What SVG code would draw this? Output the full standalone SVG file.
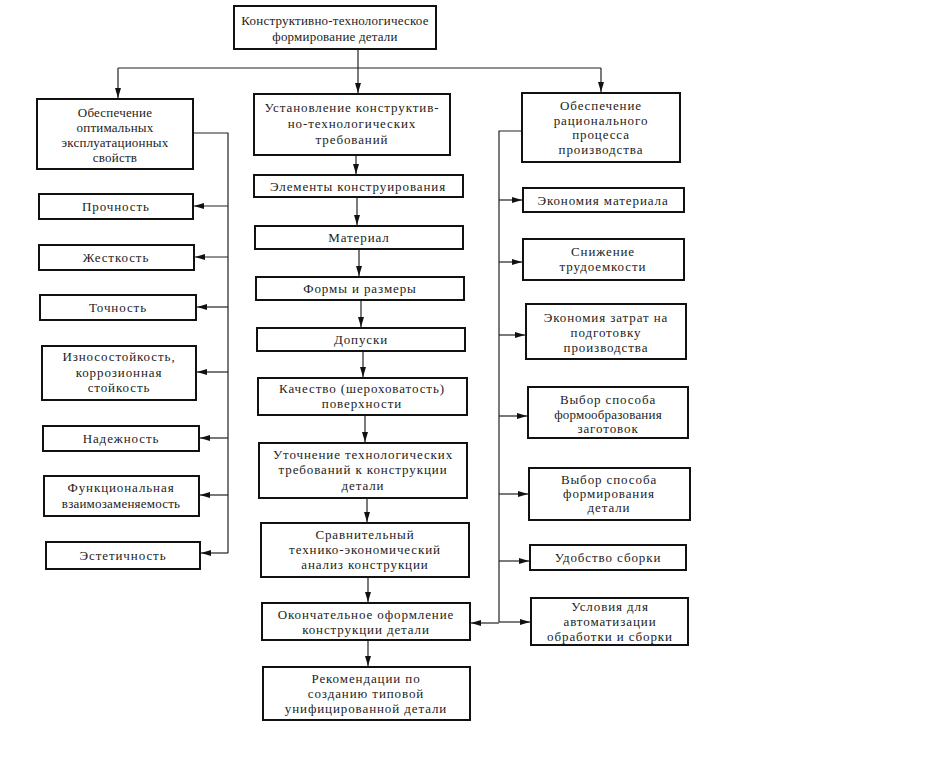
<svg xmlns="http://www.w3.org/2000/svg" width="939" height="774" viewBox="0 0 939 774">
<style>
  .box{fill:#fff;stroke:#111;stroke-width:2}
  .t{font-family:"Liberation Serif","DejaVu Serif",serif;font-size:13px;fill:#222;text-anchor:middle;letter-spacing:0.9px}
  .tn{letter-spacing:0.2px}
  .c{fill:none;stroke:#222;stroke-width:1.2}
</style>
<defs>
  <marker id="ah" viewBox="0 0 10 6" refX="10" refY="3" markerWidth="10" markerHeight="6" markerUnits="userSpaceOnUse" orient="auto">
    <path d="M0,0 L10,3 L0,6 Z" fill="#111"/>
  </marker>
</defs>
<rect width="939" height="774" fill="#fff"/>

<g id="connectors">
  <path class="c" d="M358,49 V93" marker-end="url(#ah)"/>
  <path class="c" d="M118,68 H601"/>
  <path class="c" d="M118,68 V98" marker-end="url(#ah)"/>
  <path class="c" d="M601,68 V92" marker-end="url(#ah)"/>
  <!-- left bus -->
  <path class="c" d="M193,133 H228 V553"/>
  <path class="c" d="M228,206 H194" marker-end="url(#ah)"/>
  <path class="c" d="M228,257 H195" marker-end="url(#ah)"/>
  <path class="c" d="M228,307 H197" marker-end="url(#ah)"/>
  <path class="c" d="M228,372 H197" marker-end="url(#ah)"/>
  <path class="c" d="M228,438 H200" marker-end="url(#ah)"/>
  <path class="c" d="M228,495 H200" marker-end="url(#ah)"/>
  <path class="c" d="M228,553 H201" marker-end="url(#ah)"/>
  <!-- middle chain -->
  <path class="c" d="M356,155 V174" marker-end="url(#ah)"/>
  <path class="c" d="M357,197 V225" marker-end="url(#ah)"/>
  <path class="c" d="M359,249 V276" marker-end="url(#ah)"/>
  <path class="c" d="M361,300 V327" marker-end="url(#ah)"/>
  <path class="c" d="M363,351 V377" marker-end="url(#ah)"/>
  <path class="c" d="M365,415 V442" marker-end="url(#ah)"/>
  <path class="c" d="M367,498 V522" marker-end="url(#ah)"/>
  <path class="c" d="M368,577 V602" marker-end="url(#ah)"/>
  <path class="c" d="M368,640 V666" marker-end="url(#ah)"/>
  <!-- right bus -->
  <path class="c" d="M522,131 H499 V622"/>
  <path class="c" d="M499,200 H522" marker-end="url(#ah)"/>
  <path class="c" d="M499,262 H522" marker-end="url(#ah)"/>
  <path class="c" d="M499,335 H525" marker-end="url(#ah)"/>
  <path class="c" d="M499,416 H527" marker-end="url(#ah)"/>
  <path class="c" d="M499,494 H528" marker-end="url(#ah)"/>
  <path class="c" d="M499,561 H529" marker-end="url(#ah)"/>
  <path class="c" d="M499,622 H530" marker-end="url(#ah)"/>
  <path class="c" d="M499,623 H471" marker-end="url(#ah)"/>
</g>

<g id="n-top"><rect class="box" x="234" y="6" width="202" height="43"/>
  <text class="t tn" x="335" y="25">Конструктивно-технологическое</text>
  <text class="t tn" x="335" y="41">формирование детали</text></g>

<g id="n-left"><rect class="box" x="37" y="99" width="156" height="70"/>
  <text class="t tn" x="115" y="117">Обеспечение</text>
  <text class="t tn" x="115" y="132">оптимальных</text>
  <text class="t tn" x="115" y="147">эксплуатационных</text>
  <text class="t tn" x="115" y="162">свойств</text></g>

<g id="n-l1"><rect class="box" x="39" y="194" width="154" height="25"/><text class="t" x="116" y="211">Прочность</text></g>
<g id="n-l2"><rect class="box" x="39" y="245" width="155" height="25"/><text class="t" x="116" y="262">Жесткость</text></g>
<g id="n-l3"><rect class="box" x="40" y="295" width="156" height="25"/><text class="t" x="118" y="312">Точность</text></g>
<g id="n-l4"><rect class="box" x="42" y="346" width="154" height="54"/>
  <text class="t" x="119" y="361">Износостойкость,</text>
  <text class="t" x="119" y="377">коррозионная</text>
  <text class="t" x="119" y="392">стойкость</text></g>
<g id="n-l5"><rect class="box" x="43" y="426" width="156" height="25"/><text class="t" x="121" y="443">Надежность</text></g>
<g id="n-l6"><rect class="box" x="44" y="476" width="155" height="40"/>
  <text class="t" x="121" y="492">Функциональная</text>
  <text class="t tn" x="121" y="508">взаимозаменяемость</text></g>
<g id="n-l7"><rect class="box" x="46" y="542" width="154" height="27"/><text class="t" x="123" y="560">Эстетичность</text></g>

<g id="n-m0"><rect class="box" x="254" y="94" width="196" height="61"/>
  <text class="t" x="352" y="112">Установление конструктив-</text>
  <text class="t" x="352" y="128">но-технологических</text>
  <text class="t" x="352" y="144">требований</text></g>
<g id="n-m1"><rect class="box" x="254" y="175" width="209" height="22"/><text class="t" x="358" y="191">Элементы конструирования</text></g>
<g id="n-m2"><rect class="box" x="255" y="226" width="208" height="23"/><text class="t" x="359" y="242">Материал</text></g>
<g id="n-m3"><rect class="box" x="256" y="277" width="208" height="23"/><text class="t" x="360" y="293">Формы и размеры</text></g>
<g id="n-m4"><rect class="box" x="257" y="328" width="208" height="23"/><text class="t" x="361" y="344">Допуски</text></g>
<g id="n-m5"><rect class="box" x="258" y="378" width="209" height="37"/>
  <text class="t" x="362" y="393">Качество (шероховатость)</text>
  <text class="t" x="362" y="408">поверхности</text></g>
<g id="n-m6"><rect class="box" x="259" y="443" width="208" height="55"/>
  <text class="t" x="363" y="459">Уточнение технологических</text>
  <text class="t" x="363" y="474">требований к конструкции</text>
  <text class="t" x="363" y="490">детали</text></g>
<g id="n-m7"><rect class="box" x="261" y="523" width="208" height="54"/>
  <text class="t" x="365" y="539">Сравнительный</text>
  <text class="t" x="365" y="554">технико-экономический</text>
  <text class="t" x="365" y="569">анализ конструкции</text></g>
<g id="n-m8"><rect class="box" x="262" y="603" width="208" height="37"/>
  <text class="t" x="366" y="619">Окончательное оформление</text>
  <text class="t" x="366" y="634">конструкции детали</text></g>
<g id="n-m9"><rect class="box" x="263" y="667" width="207" height="53"/>
  <text class="t" x="366" y="683">Рекомендации по</text>
  <text class="t" x="366" y="698">созданию типовой</text>
  <text class="t" x="366" y="713">унифицированной детали</text></g>

<g id="n-right"><rect class="box" x="522" y="93" width="158" height="69"/>
  <text class="t" x="601" y="110">Обеспечение</text>
  <text class="t" x="601" y="125">рационального</text>
  <text class="t" x="601" y="139">процесса</text>
  <text class="t" x="601" y="154">производства</text></g>
<g id="n-r1"><rect class="box" x="523" y="188" width="161" height="24"/><text class="t" x="603" y="205">Экономия материала</text></g>
<g id="n-r2"><rect class="box" x="523" y="239" width="161" height="41"/>
  <text class="t" x="603" y="256">Снижение</text>
  <text class="t" x="603" y="271">трудоемкости</text></g>
<g id="n-r3"><rect class="box" x="526" y="304" width="160" height="55"/>
  <text class="t" x="606" y="322">Экономия затрат на</text>
  <text class="t" x="606" y="337">подготовку</text>
  <text class="t" x="606" y="352">производства</text></g>
<g id="n-r4"><rect class="box" x="528" y="387" width="160" height="51"/>
  <text class="t" x="608" y="404">Выбор способа</text>
  <text class="t tn" x="608" y="419">формообразования</text>
  <text class="t" x="608" y="433">заготовок</text></g>
<g id="n-r5"><rect class="box" x="529" y="468" width="161" height="52"/>
  <text class="t" x="609" y="484">Выбор способа</text>
  <text class="t" x="609" y="498">формирования</text>
  <text class="t" x="609" y="512">детали</text></g>
<g id="n-r6"><rect class="box" x="530" y="545" width="156" height="25"/><text class="t" x="608" y="562">Удобство сборки</text></g>
<g id="n-r7"><rect class="box" x="531" y="598" width="157" height="47"/>
  <text class="t" x="610" y="611">Условия для</text>
  <text class="t" x="610" y="626">автоматизации</text>
  <text class="t" x="610" y="641">обработки и сборки</text></g>
</svg>
